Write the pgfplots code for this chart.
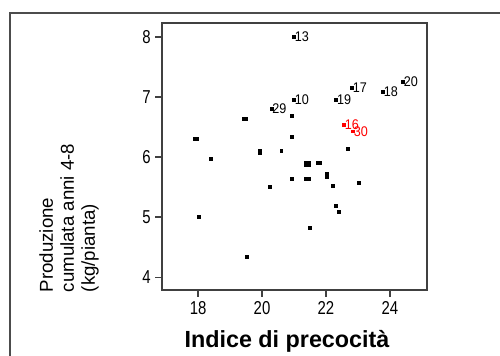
\documentclass[border=0pt]{standalone}
\usepackage{fontspec}
\setmainfont{Liberation Sans}
\newfontfamily\narrowtick[FakeStretch=0.8]{Liberation Sans}
\newfontfamily\narrowlab[FakeStretch=0.9]{Liberation Sans}
\usepackage{pgfplots}
\pgfplotsset{compat=1.18}
\begin{document}
\begin{tikzpicture}[x=1pt,y=1pt]
\path[use as bounding box] (-121.5pt,-49.5pt) rectangle (253.5pt,217.5pt);
\draw[black!70, line width=0.8pt] (-114pt,-49.5pt) -- (-114pt,207.75pt) -- (253.5pt,207.75pt);
\begin{axis}[
  scale only axis,
  width=198.75pt, height=200.25pt,
  xmin=16.87, xmax=25.16, ymin=3.79, ymax=8.23,
  xtick={18,20,22,24}, ytick={4,5,6,7,8},
  tick align=outside, tick pos=left,
  major tick length=5pt,
  axis line style={black!75, line width=1.2pt},
  every tick/.style={black!75, line width=1.2pt},
  /pgf/number format/assume math mode=true,
  ticklabel style={font=\narrowtick\fontsize{14}{16}\selectfont},
  xticklabel style={yshift=0pt},
  yticklabel style={xshift=0pt},
  clip=false,
]
\addplot[only marks, mark=square*, mark size=1.1pt, black] coordinates {
(19.43,6.64) (19.50,6.64)
(20.94,6.68)
(17.90,6.31) (17.97,6.31)
(20.94,6.34)
(22.69,6.14)
(18.40,5.97)
(19.93,6.07) (19.93,6.11)
(20.60,6.11)
(21.38,5.87) (21.45,5.91) (21.38,5.91) (21.45,5.87)
(21.75,5.91) (21.82,5.91)
(21.38,5.64) (21.45,5.64)
(20.94,5.64)
(22.01,5.67) (22.01,5.72)
(22.20,5.53)
(23.02,5.57)
(20.24,5.50)
(22.32,5.19)
(22.40,5.09)
(18.02,5.00)
(21.49,4.83)
(19.53,4.34)
};
\addplot[only marks, mark=square*, mark size=1.1pt, black,
  nodes near coords, point meta=explicit symbolic,
  every node near coord/.style={anchor=west, inner sep=0.5pt, font=\narrowlab\fontsize{10.5}{12}\selectfont, black}] coordinates {
(21.00,8.00) [13]
(21.00,6.95) [10]
(20.29,6.81) [29]
(22.32,6.95) [19]
(22.81,7.15) [17]
(23.78,7.08) [18]
(24.41,7.26) [20]
};
\addplot[only marks, mark=square*, mark size=1.1pt, red,
  nodes near coords, point meta=explicit symbolic,
  every node near coord/.style={anchor=west, inner sep=0.5pt, font=\narrowlab\fontsize{10.5}{12}\selectfont, red}] coordinates {
(22.84,6.43) [30]
(22.56,6.54) [16]
};
\end{axis}
\node[anchor=base, font=\fontsize{17.5}{20}\bfseries] at (93.75pt,-43.5pt) {Indice di precocità};
\node[rotate=90, align=left, font=\fontsize{14}{15.75}\selectfont] at (-69.75pt,54pt) {Produzione\\cumulata anni 4-8\\(kg/pianta)};
\end{tikzpicture}
\end{document}
